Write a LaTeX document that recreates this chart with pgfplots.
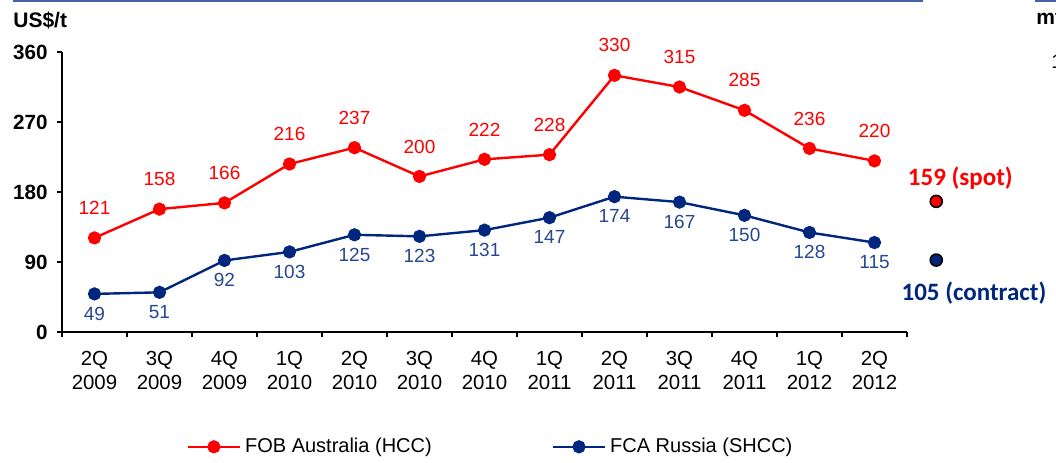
\documentclass[border=0pt]{standalone}
\usepackage{graphicx}
\usepackage{pgfplots}
\pgfplotsset{compat=1.18}
\usepackage{fontspec}
\setmainfont{Liberation Sans}
\newfontfamily\calibri{Carlito}
\definecolor{fobred}{RGB}{255,0,0}
\definecolor{fcablue}{RGB}{0,38,125}
\definecolor{rulebl}{RGB}{70,100,165}

\begin{document}
\begin{tikzpicture}
% frame rule at the top, cut where the neighbouring panel starts
\draw[rulebl, line width=1pt] (6.5pt,-0.5pt) -- (461.5pt,-0.5pt);
\draw[rulebl, line width=1pt] (517.5pt,-0.5pt) -- (530pt,-0.5pt);
\node[anchor=west, inner sep=0pt, font=\bfseries\fontsize{10.5}{12}\selectfont] at (6.5pt,-10pt) {US\$/t};
\node[anchor=west, inner sep=0pt, font=\bfseries\fontsize{10.5}{12}\selectfont] at (518pt,-9pt) {mt};
\node[anchor=west, inner sep=0pt, font=\fontsize{10}{12}\selectfont] at (525.5pt,-31pt) {1};

\begin{axis}[
  at={(31pt,-166pt)}, anchor=south west,
  scale only axis, width=422.5pt, height=140pt,
  xmin=-0.5, xmax=12.5, ymin=0, ymax=360,
  axis lines=left, axis line style={-, line width=1.2pt},
  tick style={black, line width=1pt}, tick align=outside, major tick length=2.5pt,
  ytick={0,90,180,270,360},
  yticklabel style={font=\bfseries\fontsize{10.3}{12}\selectfont, xshift=-1.2pt},
  xtick={-0.5,0.5,...,12.5},
  x tick label as interval,
  xticklabels={{2Q\\2009},{3Q\\2009},{4Q\\2009},{1Q\\2010},{2Q\\2010},{3Q\\2010},{4Q\\2010},{1Q\\2011},{2Q\\2011},{3Q\\2011},{4Q\\2011},{1Q\\2012},{2Q\\2012},{}},
  xticklabel style={align=center, font=\fontsize{10.2}{12}\selectfont, yshift=-3.5pt},
  /pgf/number format/assume math mode=true,
  clip=false,
  legend style={draw=none, fill=none, at={(0.14,-0.41)}, anchor=west,
    font=\fontsize{10}{12}\selectfont,
    /tikz/every even column/.append style={column sep=58pt}},
  legend columns=2, legend cell align=left,
  legend image code/.code={\draw[mark repeat=2,mark phase=2] plot coordinates {(0pt,0pt)(13pt,0pt)(26pt,0pt)};},
]
\addplot[fobred, line width=1.2pt, mark=*, mark size=2.7pt,
  nodes near coords, nodes near coords align={above},
  every node near coord/.append style={font=\fontsize{9.5}{11}\selectfont, text=fobred, inner sep=0pt, yshift=11pt}]
  coordinates {(0,121) (1,158) (2,166) (3,216) (4,237) (5,200) (6,222) (7,228) (8,330) (9,315) (10,285) (11,236) (12,220)};
\addlegendentry{FOB Australia (HCC)}
\addplot[fcablue, line width=1.2pt, mark=*, mark size=2.7pt,
  nodes near coords, nodes near coords align={below},
  every node near coord/.append style={font=\fontsize{9.5}{11}\selectfont, text=fcablue!85!white, inner sep=0pt, yshift=-6pt}]
  coordinates {(0,49) (1,51) (2,92) (3,103) (4,125) (5,123) (6,131) (7,147) (8,174) (9,167) (10,150) (11,128) (12,115)};
\addlegendentry{FCA Russia (SHCC)}
% latest spot and contract prices, set beside the axis
\addplot[only marks, mark=*, mark size=3pt, mark options={fill=fobred, draw=black, line width=0.8pt}, forget plot]
  coordinates {(12.95,168)};
\addplot[only marks, mark=*, mark size=3pt, mark options={fill=fcablue, draw=black, line width=0.8pt}, forget plot]
  coordinates {(12.95,92.5)};
\node[text=fobred, font=\calibri\bfseries\fontsize{12.5}{14}\selectfont] at (axis cs:13.32,198) {159 (spot)};
\node[text=fcablue, font=\calibri\bfseries\fontsize{12.5}{14}\selectfont] at (axis cs:13.53,50) {105 (contract)};
\end{axis}
\pgfresetboundingbox
\useasboundingbox (0pt,0pt) rectangle (528pt,-231pt);
\end{tikzpicture}
\end{document}
